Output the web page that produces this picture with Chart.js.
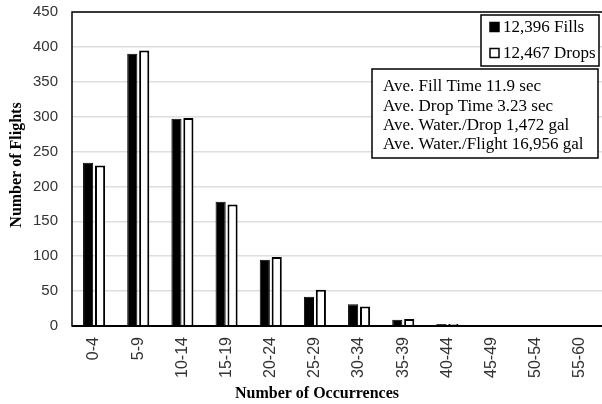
<!DOCTYPE html>
<html>
<head>
<meta charset="utf-8">
<script src="https://cdn.jsdelivr.net/npm/chart.js@4/dist/chart.umd.min.js"></script>
<style>
html,body{margin:0;padding:0;background:#fff;}
#wrap{width:602px;height:404px;position:relative;}
</style>
</head>
<body>
<div id="wrap"><canvas id="c"></canvas></div>
<script>
const categories = ["0-4","5-9","10-14","15-19","20-24","25-29","30-34","35-39","40-44","45-49","50-54","55-60"];
const fills = [234, 390, 297, 178, 95, 42, 31, 9, 3, 1.5, 1, 0];
const drops = [230, 395, 298, 174, 99, 52, 28, 10, 3, 1.5, 1, 0];
const seriesLabels = ["12,396 Fills", "12,467 Drops"];
const statLines = [
  "Ave. Fill Time 11.9 sec",
  "Ave. Drop Time 3.23 sec",
  "Ave. Water./Drop 1,472 gal",
  "Ave. Water./Flight 16,956 gal"
];
const xTitle = "Number of Occurrences";
const yTitle = "Number of Flights";
const yMax = 450, yStep = 50;

const serif = "'Liberation Serif', 'Times New Roman', serif";
const sans = "'Liberation Sans', Arial, sans-serif";

const overlay = {
  id: 'overlay',
  afterDatasetsDraw(chart) {
    const ctx = chart.ctx;
    const a = chart.chartArea;
    ctx.save();
    // plot frame
    ctx.strokeStyle = '#000';
    ctx.lineWidth = 1.5;
    ctx.strokeRect(a.left, a.top, a.right - a.left + 2, a.bottom - a.top);
    ctx.lineWidth = 2;
    ctx.beginPath();
    ctx.moveTo(a.left, a.bottom);
    ctx.lineTo(a.right, a.bottom);
    ctx.stroke();

    // axis titles
    ctx.fillStyle = '#000';
    ctx.font = 'bold 16px ' + serif;
    ctx.textAlign = 'center';
    ctx.textBaseline = 'middle';
    ctx.fillText(xTitle, 317, 394);
    ctx.save();
    ctx.translate(17, 165);
    ctx.rotate(-Math.PI / 2);
    ctx.fillText(yTitle, 0, 0);
    ctx.restore();

    // legend box
    const lx = 481, ly = 15, lw = 118, lh = 51;
    ctx.fillStyle = '#fff';
    ctx.fillRect(lx, ly, lw, lh);
    ctx.lineWidth = 1.5;
    ctx.strokeRect(lx, ly, lw, lh);
    ctx.font = '17px ' + serif;
    ctx.textBaseline = 'middle';
    const ds = chart.data.datasets;
    ds.forEach((d, i) => {
      const cy = ly + 12 + i * 26;
      ctx.fillStyle = d.backgroundColor;
      ctx.fillRect(lx + 9, cy - 4.5, 9, 9);
      ctx.strokeStyle = '#000';
      ctx.lineWidth = 1.5;
      ctx.strokeRect(lx + 9, cy - 4.5, 9, 9);
      ctx.fillStyle = '#000';
      ctx.textAlign = 'left';
      ctx.fillText(d.label, lx + 22, cy + 1);
    });

    // stats box
    const bx = 372, by = 69, bw = 226, bh = 89;
    ctx.fillStyle = '#fff';
    ctx.fillRect(bx, by, bw, bh);
    ctx.strokeStyle = '#000';
    ctx.lineWidth = 1.5;
    ctx.strokeRect(bx, by, bw, bh);
    ctx.fillStyle = '#000';
    ctx.font = '17px ' + serif;
    ctx.textAlign = 'left';
    statLines.forEach((t, i) => {
      ctx.fillText(t, bx + 11, by + 18 + i * 19.3);
    });
    ctx.restore();
  }
};

new Chart(document.getElementById('c'), {
  type: 'bar',
  data: {
    labels: categories,
    datasets: [
      { label: seriesLabels[0], data: fills, backgroundColor: '#000', borderColor: '#000', borderWidth: 1 },
      { label: seriesLabels[1], data: drops, backgroundColor: '#fff', borderColor: '#000', borderWidth: 2 }
    ]
  },
  options: {
    responsive: true,
    maintainAspectRatio: false,
    animation: false,
    events: [],
    layout: { padding: { top: 12, right: 0, left: 0, bottom: 0 } },
    datasets: { bar: { categoryPercentage: 0.54, barPercentage: 0.85 } },
    plugins: { legend: { display: false }, tooltip: { enabled: false } },
    scales: {
      x: {
        grid: { display: false, drawTicks: false },
        border: { display: false },
        ticks: {
          minRotation: 90, maxRotation: 90, autoSkip: false,
          padding: 11,
          color: '#333',
          font: { family: sans, size: 16 }
        },
        afterFit(s) { s.height = 78; s.paddingLeft = 0; s.paddingRight = 0; }
      },
      y: {
        min: 0, max: yMax,
        grid: { color: '#dedede', lineWidth: 1.5, drawTicks: false },
        border: { display: false },
        ticks: {
          stepSize: yStep,
          padding: 14,
          color: '#333',
          font: { family: sans, size: 15 }
        },
        afterFit(s) { s.width = 72; s.paddingTop = 0; s.paddingBottom = 0; }
      }
    }
  },
  plugins: [overlay]
});
</script>
</body>
</html>
